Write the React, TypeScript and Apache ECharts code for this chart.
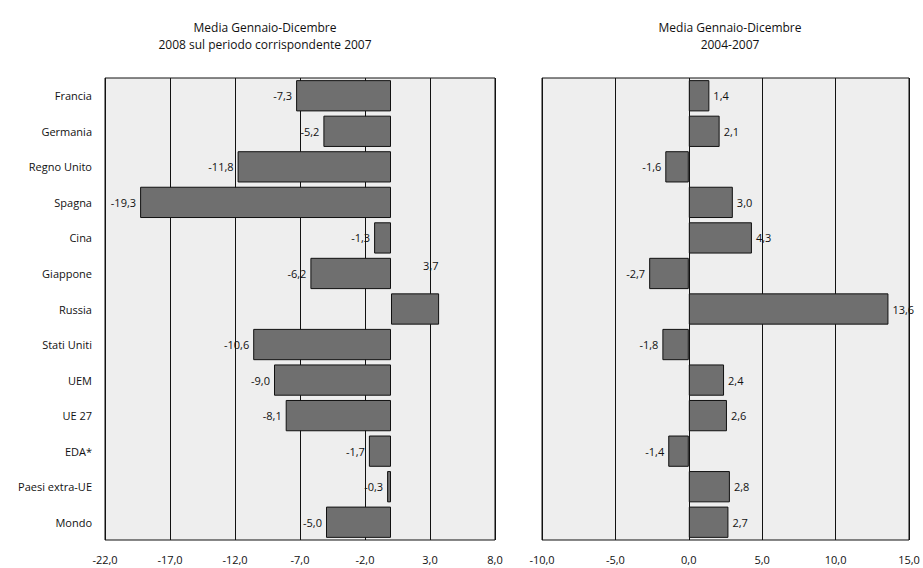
import React, { useEffect, useRef } from "react";
import * as echarts from "echarts";

const categories = [
  "Francia", "Germania", "Regno Unito", "Spagna", "Cina", "Giappone", "Russia",
  "Stati Uniti", "UEM", "UE 27", "EDA*", "Paesi extra-UE", "Mondo",
];
const values2008 = [-7.3, -5.2, -11.8, -19.3, -1.3, -6.2, 3.7, -10.6, -9.0, -8.1, -1.7, -0.3, -5.0];
const values0407 = [1.4, 2.1, -1.6, 3.0, 4.3, -2.7, 13.6, -1.8, 2.4, 2.6, -1.4, 2.8, 2.7];
const titleLeft = "Media Gennaio-Dicembre\n2008 sul periodo corrispondente 2007";
const titleRight = "Media Gennaio-Dicembre\n2004-2007";

const fmt = (v: number) => v.toFixed(1).replace(".", ",");
const FONT = "'Open Sans', sans-serif";

export default function App() {
  const ref = useRef<HTMLDivElement>(null);
  useEffect(() => {
    document.body.style.margin = "0";
    const chart = echarts.init(ref.current!, null, { renderer: "svg" });
    const barStyle = { color: "#6f6f6f", borderColor: "#111", borderWidth: 1 };
    const labelBase = {
      show: true,
      fontSize: 11,
      color: "#111",
      fontFamily: FONT,
      formatter: (p: any) => fmt(p.value),
      distance: 4,
    };
    const xAxisCommon = {
      type: "value" as const,
      interval: 5,
      axisLine: { show: false },
      axisTick: { show: false },
      splitLine: { show: true, lineStyle: { color: "#111", width: 1 } },
      axisLabel: { fontSize: 11, color: "#111", fontFamily: FONT, margin: 14, formatter: (v: number) => fmt(v) },
    };
    chart.setOption({
      animation: false,
      title: [
        { text: titleLeft, left: 260, top: 14, textAlign: "center",
          textStyle: { fontSize: 12, fontWeight: "normal", color: "#111", fontFamily: FONT, lineHeight: 17 } },
        { text: titleRight, left: 725, top: 14, textAlign: "center",
          textStyle: { fontSize: 12, fontWeight: "normal", color: "#111", fontFamily: FONT, lineHeight: 17 } },
      ],
      grid: [
        { left: 105, right: 428, top: 78, bottom: 28, show: true, backgroundColor: "#eeeeee", borderColor: "#111", borderWidth: 1 },
        { left: 542, right: 14, top: 78, bottom: 28, show: true, backgroundColor: "#eeeeee", borderColor: "#111", borderWidth: 1 },
      ],
      xAxis: [
        { ...xAxisCommon, gridIndex: 0, min: -22, max: 8 },
        { ...xAxisCommon, gridIndex: 1, min: -10, max: 15 },
      ],
      yAxis: [
        { type: "category", gridIndex: 0, data: categories, inverse: true,
          axisLine: { show: false }, axisTick: { show: false },
          axisLabel: { fontSize: 11, color: "#111", fontFamily: FONT, margin: 13 } },
        { type: "category", gridIndex: 1, data: categories, inverse: true,
          axisLine: { show: false }, axisTick: { show: false }, axisLabel: { show: false } },
      ],
      series: [
        {
          type: "bar", xAxisIndex: 0, yAxisIndex: 0, barCategoryGap: "12%",
          data: values2008.map((v) => ({ value: v, label: { position: v < 0 ? "left" : "right" } })),
          itemStyle: barStyle,
          label: { ...labelBase },
          labelLayout: (p: any) => (p.dataIndex === 6 ? { dy: -44, dx: -20 } : {}),
        },
        {
          type: "bar", xAxisIndex: 1, yAxisIndex: 1, barCategoryGap: "12%",
          data: values0407.map((v) => ({ value: v, label: { position: v < 0 ? "left" : "right" } })),
          itemStyle: barStyle,
          label: { ...labelBase },
        },
      ],
    });
    return () => chart.dispose();
  }, []);
  return <div ref={ref} style={{ width: 923, height: 568, background: "#fff" }} />;
}
